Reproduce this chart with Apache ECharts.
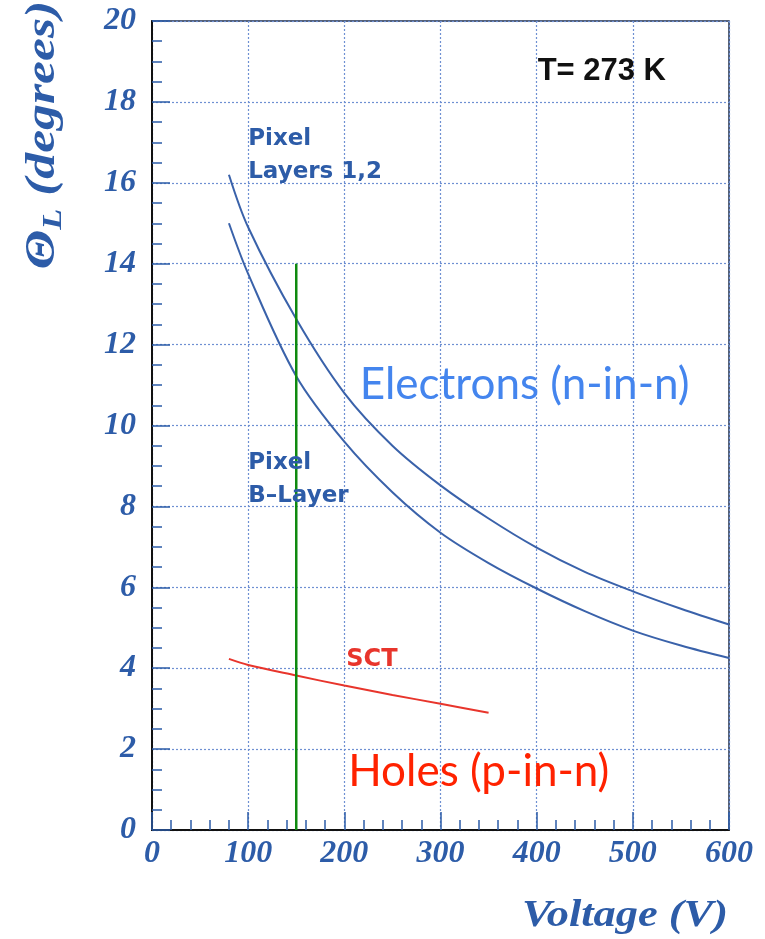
<!DOCTYPE html>
<html>
<head>
<meta charset="utf-8">
<script src="https://cdn.jsdelivr.net/npm/echarts@6/dist/echarts.min.js"></script>
<style>
html,body{margin:0;padding:0;background:#fff;}
#chart{width:765px;height:939px;}
</style>
</head>
<body>
<div id="chart"></div>
<script>
// ---- data ----
const voltage = [80, 100, 150, 200, 250, 300, 350, 400, 450, 500, 550, 600];
const pixelLayers12 = [16.2, 14.9, 12.63, 10.8, 9.5, 8.52, 7.7, 6.98, 6.38, 5.9, 5.47, 5.08];
const pixelBLayer = [15.0, 13.75, 11.22, 9.6, 8.35, 7.35, 6.6, 5.97, 5.41, 4.93, 4.56, 4.25];
const sctVoltage = [80, 100, 150, 200, 250, 300, 350];
const sctAngle = [4.23, 4.08, 3.82, 3.57, 3.34, 3.12, 2.9];
const markerVoltage = [150, 150];
const markerAngle = [0, 14];
const xTicks = [0, 100, 200, 300, 400, 500, 600];
const yTicks = [0, 2, 4, 6, 8, 10, 12, 14, 16, 18, 20];

const pairs = (xs, ys) => xs.map((x, i) => [x, ys[i]]);

const blue = '#3a62aa';
const axisBlue = '#2d5ca8';
const serif = '"Liberation Serif", "DejaVu Serif", serif';

const chart = echarts.init(document.getElementById('chart'), null, {renderer: 'canvas'});

const axisCommon = {
  type: 'value',
  axisLine: {show: true, lineStyle: {color: '#111', width: 2}},
  axisTick: {show: true, inside: true, length: 18, lineStyle: {color: axisBlue, width: 1.5}},
  minorTick: {show: true, length: 10, lineStyle: {color: axisBlue, width: 1.5}},
  splitLine: {show: true, lineStyle: {color: '#6f90d2', type: [2, 2], width: 1.2}},
  axisLabel: {color: axisBlue, fontFamily: serif, fontWeight: 'bold', fontStyle: 'italic', fontSize: 32}
};

chart.setOption({
  animation: false,
  backgroundColor: '#fff',
  grid: {left: 152, right: 36, top: 21, bottom: 109, show: true, borderColor: '#1c2c4c', borderWidth: 1.5, containLabel: false},
  xAxis: Object.assign({}, axisCommon, {
    min: xTicks[0], max: xTicks[xTicks.length - 1], interval: 100,
    minorTick: Object.assign({}, axisCommon.minorTick, {splitNumber: 5}),
    axisLabel: Object.assign({}, axisCommon.axisLabel, {margin: 8})
  }),
  yAxis: Object.assign({}, axisCommon, {
    min: yTicks[0], max: yTicks[yTicks.length - 1], interval: 2,
    minorTick: Object.assign({}, axisCommon.minorTick, {splitNumber: 4}),
    axisLabel: Object.assign({}, axisCommon.axisLabel, {margin: 16})
  }),
  series: [
    {type: 'line', name: 'Pixel Layers 1,2', data: pairs(voltage, pixelLayers12), smooth: 0.33, showSymbol: false,
     lineStyle: {color: blue, width: 2}, z: 3},
    {type: 'line', name: 'Pixel B-Layer', data: pairs(voltage, pixelBLayer), smooth: 0.33, showSymbol: false,
     lineStyle: {color: blue, width: 2}, z: 3},
    {type: 'line', name: 'SCT', data: pairs(sctVoltage, sctAngle), smooth: 0.33, showSymbol: false,
     lineStyle: {color: '#e8352c', width: 2}, z: 3},
    {type: 'line', name: 'marker', data: pairs(markerVoltage, markerAngle), showSymbol: false,
     lineStyle: {color: '#0f8a0f', width: 2.5}, z: 4}
  ]
});

// annotations anchored in data coordinates
const p = (x, y) => chart.convertToPixel({gridIndex: 0}, [x, y]);
const notes = [
  {at: [100, 17.49], text: 'Pixel\nLayers 1,2', fill: axisBlue, font: 'bold 23px "DejaVu Sans"', lh: 33, va: 'top', align: 'left'},
  {at: [100, 9.47], text: 'Pixel\nB\u2013Layer', fill: axisBlue, font: 'bold 23px "DejaVu Sans"', lh: 33, va: 'top', align: 'left'},
  {at: [202, 4.2], text: 'SCT', fill: '#e8352c', font: 'bold 24px "DejaVu Sans"', va: 'middle', align: 'left'},
  {at: [216, 11.0], text: 'Electrons (n-in-n)', fill: '#4485ee', font: '44px Lato', va: 'middle', align: 'left'},
  {at: [204, 1.43], text: 'Holes (p-in-n)', fill: '#ff2200', font: '44px Lato', va: 'middle', align: 'left'},
  {at: [401, 18.75], text: 'T= 273 K', fill: '#111', font: 'bold 31px "Liberation Sans"', va: 'middle', align: 'left'}
];
const graphics = notes.map(n => {
  const q = p(n.at[0], n.at[1]);
  return {type: 'text', x: q[0], y: q[1], z: 10,
    style: {text: n.text, fill: n.fill, font: n.font, lineHeight: n.lh, textAlign: n.align, textVerticalAlign: n.va}};
});
graphics.push({
  type: 'text', x: 43, y: 135, rotation: Math.PI / 2, scaleX: 1.23, z: 10,
  style: {
    text: '{a|\u0398}{b|L}{a| (degrees)}',
    textAlign: 'center', textVerticalAlign: 'middle',
    rich: {
      a: {fontFamily: serif, fontWeight: 'bold', fontStyle: 'italic', fontSize: 42, fill: axisBlue, color: axisBlue},
      b: {fontFamily: serif, fontWeight: 'bold', fontStyle: 'italic', fontSize: 28, fill: axisBlue, color: axisBlue, padding: [22, 0, 0, 0]}
    }
  }
});
graphics.push({
  type: 'text', x: 728, y: 916, scaleX: 1.2, z: 10,
  style: {text: 'Voltage (V)', fill: axisBlue, font: 'italic bold 37px ' + serif, textAlign: 'right', textVerticalAlign: 'middle'}
});
chart.setOption({graphic: graphics});
</script>
</body>
</html>
